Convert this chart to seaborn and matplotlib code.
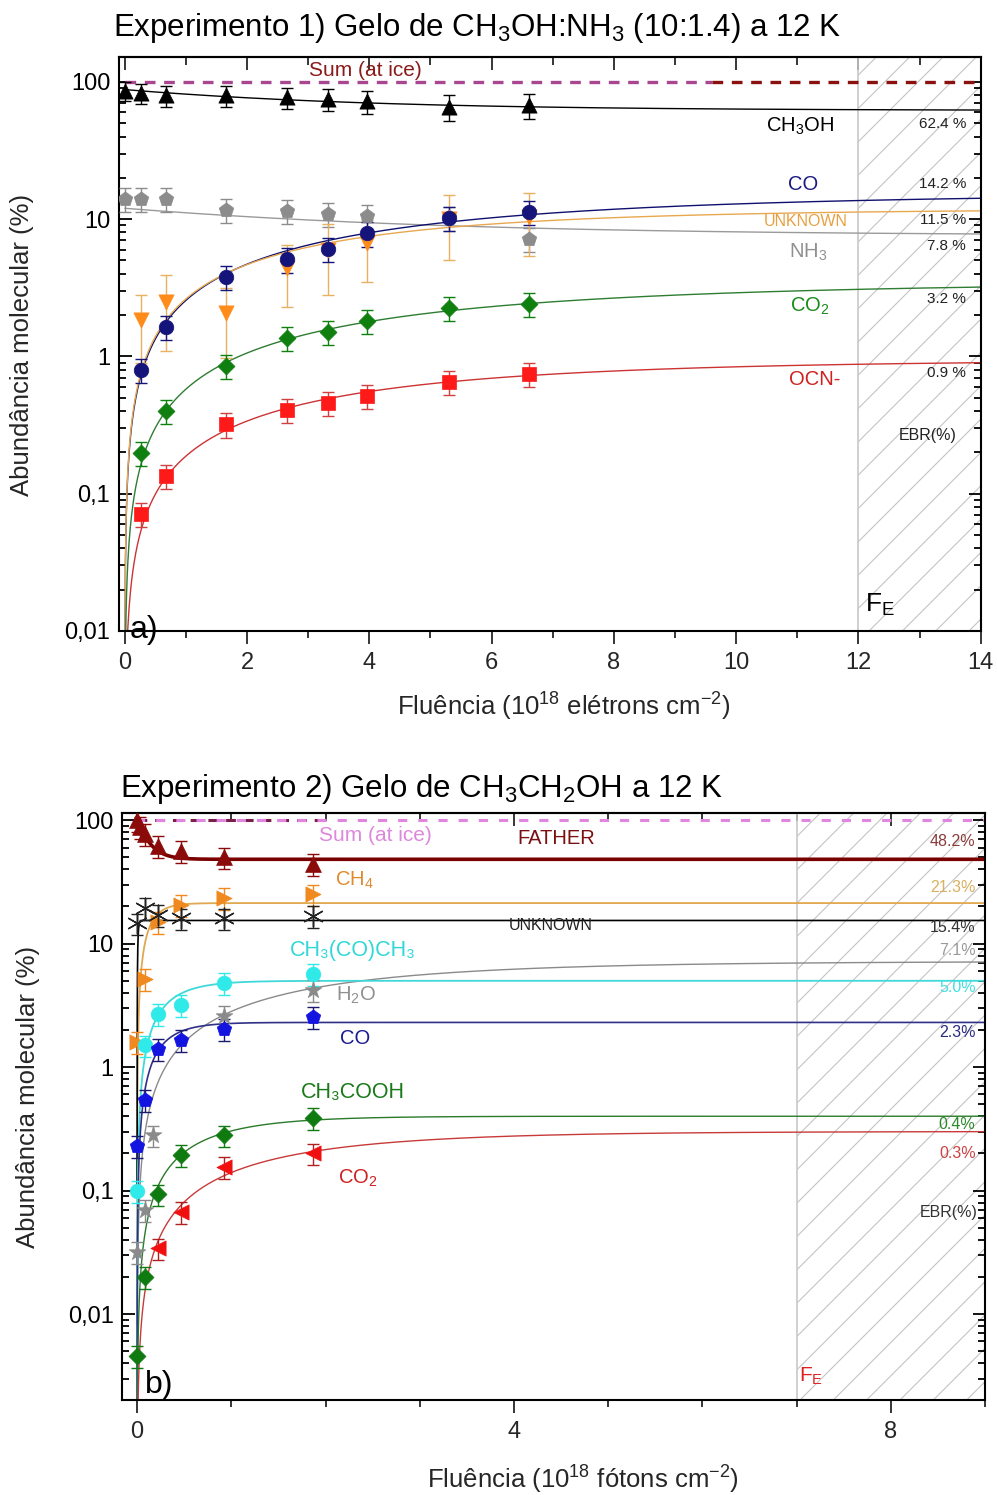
import numpy as np
import pandas as pd
import matplotlib
matplotlib.use("Agg")
import matplotlib.pyplot as plt
import matplotlib.ticker as mticker
from matplotlib.markers import MarkerStyle
import seaborn as sns

sns.set_theme(style="white")
plt.rcParams['font.family'] = ['Liberation Sans', 'DejaVu Sans']
plt.rcParams['mathtext.fontset'] = 'custom'
plt.rcParams['mathtext.rm'] = 'Liberation Sans'
plt.rcParams['mathtext.it'] = 'Liberation Sans:italic'
plt.rcParams['mathtext.bf'] = 'Liberation Sans:bold'
plt.rcParams['hatch.linewidth'] = 0.8
plt.rcParams['axes.linewidth'] = 1.5

TICK_FS = 17
LABEL_FS = 18.5
TITLE_FS = 22.5

# ---------------- Experiment 1: CH3OH:NH3 ice, electrons ----------------
flu_1 = [0.0, 0.27, 0.67, 1.66, 2.66, 3.33, 3.97, 5.30, 6.62]
ch3oh_1 = [86, 83, 80, 80, 77, 75, 72, 66, 68]
nh3_1 = [14.0, 14.0, 14.0, 11.7, 11.5, 10.9, 10.6, 10.3, 7.2]
co_1 = [0.80, 1.64, 3.8, 5.1, 6.1, 7.9, 10.2, 11.3]
unk_1 = [1.85, 2.5, 2.07, 4.4, 6.0, 6.7, 10.0, 10.4]
unk_1_err = [0.95, 1.4, 1.1, 2.1, 3.2, 3.2, 5.0, 5.0]
co2_1 = [0.198, 0.40, 0.85, 1.36, 1.51, 1.81, 2.26, 2.41]
ocn_1 = [0.071, 0.135, 0.32, 0.41, 0.46, 0.515, 0.65, 0.745]

# equilibrium branching ratios (%) and characteristic fluences of the fits
ebr_1 = {"CH3OH": 62.4, "CO": 14.2, "UNKNOWN": 11.5, "NH3": 7.8, "CO2": 3.2, "OCN-": 0.9}
tau_1 = {"CH3OH": 3.5, "CO": 5.5, "UNKNOWN": 4.0, "NH3": 4.5, "CO2": 5.5, "OCN-": 4.5}
drop_1 = {"CH3OH": 26.0, "NH3": 4.4}
fe_1 = 12.0
xmax_1 = 14.0

# ---------------- Experiment 2: CH3CH2OH ice, photons ----------------
flu_2_father = [0.0, 0.03, 0.08, 0.22, 0.47, 0.92, 1.87]
father_2 = [100, 88, 77, 62, 56, 50, 44]
flu_2 = [0.0, 0.08, 0.22, 0.47, 0.92, 1.87]
ch4_2 = [1.6, 5.2, 15.0, 20.5, 23.3, 25.0]
unk_2 = [14.6, 19.5, 17.0, 16.0, 16.0, 16.8]
acetone_2 = [0.10, 1.5, 2.7, 3.2, 4.8, 5.7]
flu_2_h2o = [0.0, 0.08, 0.17, 0.92, 1.87]
h2o_2 = [0.032, 0.07, 0.28, 2.6, 4.2]
co_2 = [0.23, 0.54, 1.4, 1.66, 2.05, 2.55]
acid_2 = [0.0046, 0.020, 0.093, 0.195, 0.28, 0.39]
flu_2_co2 = [0.22, 0.47, 0.92, 1.87]
co2_2 = [0.034, 0.067, 0.155, 0.20]

ebr_2 = {"FATHER": 48.2, "CH4": 21.3, "UNKNOWN": 15.4, "H2O": 7.1, "ACETONE": 5.0,
         "CO": 2.3, "CH3COOH": 0.4, "CO2": 0.3}
tau_2 = {"FATHER": 0.12, "CH4": 0.13, "UNKNOWN": 0.008, "H2O": 2.0, "ACETONE": 0.3,
         "CO": 0.25, "CH3COOH": 0.7, "CO2": 1.6}
fe_2 = 7.0
xmax_2 = 9.0

REL_ERR = 0.20


def growth(x, ebr, tau, xend):
    return ebr * (1 - np.exp(-x / tau)) / (1 - np.exp(-xend / tau))


def decay(x, ebr, drop, tau, xend):
    return ebr + drop * (np.exp(-x / tau) - np.exp(-xend / tau))


def fit_line(ax, x, y, color, lw=1.0):
    df = pd.DataFrame({"x": x, "y": y})
    sns.lineplot(data=df, x="x", y="y", ax=ax, color=color, lw=lw,
                 estimator=None, sort=False, zorder=2, legend=False)


def points(ax, x, y, color, marker, size, err=None, ecolor=None):
    y = np.asarray(y, float)
    e = REL_ERR * y if err is None else np.asarray(err, float)
    ax.errorbar(x, y, yerr=e, fmt='none', ecolor=ecolor or color, elinewidth=1.0,
                capsize=4, capthick=1.0, zorder=3)
    sns.scatterplot(x=x, y=y, ax=ax, color=color, marker=marker, s=size,
                    edgecolor=color, linewidth=0.5, zorder=4, legend=False)


def log_axis(ax, ylim):
    ax.set_yscale('log')
    ax.set_ylim(*ylim)
    ax.yaxis.set_major_locator(mticker.FixedLocator([0.01, 0.1, 1, 10, 100]))
    ax.yaxis.set_major_formatter(mticker.FixedFormatter(["0,01", "0,1", "1", "10", "100"]))
    ax.yaxis.set_minor_locator(mticker.LogLocator(base=10, subs=np.arange(2, 10)))
    ax.yaxis.set_minor_formatter(mticker.NullFormatter())
    ax.tick_params(axis='y', which='both', direction='in', left=True, right=True,
                   labelsize=TICK_FS, colors='black', width=1.3, pad=6)
    ax.tick_params(axis='y', which='major', length=9)
    ax.tick_params(axis='y', which='minor', length=5)
    ax.tick_params(axis='x', which='both', direction='out', bottom=True, labelsize=TICK_FS,
                   width=1.3, pad=6)
    ax.tick_params(axis='x', which='major', length=9)
    ax.tick_params(axis='x', which='minor', length=5)
    for s in ax.spines.values():
        s.set_color('black')
        s.set_linewidth(1.5)


def top_ticks(ax, major, minor):
    sec = ax.secondary_xaxis('top')
    sec.set_xticks(major)
    sec.set_xticks(minor, minor=True)
    sec.tick_params(which='both', direction='in', labeltop=False, width=1.3)
    sec.tick_params(which='major', length=9)
    sec.tick_params(which='minor', length=6)
    sec.spines['top'].set_linewidth(1.5)


def shade(ax, x0, x1):
    ax.axvspan(x0, x1, facecolor='none', hatch='/', edgecolor='#c4c4c4', lw=0, zorder=0)
    ax.axvline(x0, color='#c8c8c8', lw=1.2, zorder=1)


fig = plt.figure(figsize=(9.97, 14.95), dpi=100)

# ======================= panel a =======================
ax1 = fig.add_axes([0.119, 0.578, 0.8646, 0.3839])
log_axis(ax1, (0.01, 152))
ax1.set_xlim(-0.1, xmax_1)
ax1.xaxis.set_major_locator(mticker.MultipleLocator(2))
ax1.xaxis.set_minor_locator(mticker.MultipleLocator(1))
top_ticks(ax1, np.arange(0, 15, 2), np.arange(1, 14, 2))
shade(ax1, fe_1, xmax_1)

xs1 = np.linspace(0.0005, xmax_1, 1400)
ax1.plot([0, 9.6], [100, 100], ls=(0, (3.2, 2.6)), color='#a8478f', lw=2.4, zorder=2)
ax1.plot([9.6, xmax_1], [100, 100], ls=(0, (3.2, 2.6)), color='#8b1010', lw=2.4, zorder=2)

fit_line(ax1, xs1, decay(xs1, ebr_1["CH3OH"], drop_1["CH3OH"], tau_1["CH3OH"], xmax_1), 'black')
fit_line(ax1, xs1, decay(xs1, ebr_1["NH3"], drop_1["NH3"], tau_1["NH3"], xmax_1), '#9a9a9a')
fit_line(ax1, xs1, growth(xs1, ebr_1["CO"], tau_1["CO"], xmax_1), '#10106e')
fit_line(ax1, xs1, growth(xs1, ebr_1["UNKNOWN"], tau_1["UNKNOWN"], xmax_1), '#e8a850')
fit_line(ax1, xs1, growth(xs1, ebr_1["CO2"], tau_1["CO2"], xmax_1), '#2e7d32')
fit_line(ax1, xs1, growth(xs1, ebr_1["OCN-"], tau_1["OCN-"], xmax_1), '#cc3333')

points(ax1, flu_1, ch3oh_1, 'black', '^', 120, err=[14] * len(flu_1))
points(ax1, flu_1, nh3_1, '#8c8c8c', 'p', 120)
points(ax1, flu_1[1:], unk_1, '#ff8c1a', 'v', 120, err=unk_1_err, ecolor='#e8b060')
points(ax1, flu_1[1:], co_1, '#14147a', 'o', 110)
points(ax1, flu_1[1:], co2_1, '#0f800f', 'D', 75)
points(ax1, flu_1[1:], ocn_1, '#ff1a1a', 's', 95, ecolor='#d04040')

ax1.text(3.93, 122, "Sum (at ice)", color='#8b1a1a', fontsize=15, ha='center', va='center')
lab1 = [("CH$_3$OH", 11.05, 47.8, 'black', 14.5),
        ("CO", 11.1, 17.8, '#1a1a80', 14.5),
        ("UNKNOWN", 11.13, 9.55, '#e8a040', 11.5),
        ("NH$_3$", 11.18, 5.77, '#909090', 14.5),
        ("CO$_2$", 11.21, 2.30, '#1a8a1a', 14.5),
        ("OCN-", 11.29, 0.674, '#d02020', 14.5)]
for t, x, y, c, fs in lab1:
    ax1.text(x, y, t, color=c, fontsize=fs, ha='center', va='center')
pct1 = [("CH3OH", 49.4), ("CO", 18.1), ("UNKNOWN", 9.87), ("NH3", 6.38), ("CO2", 2.62), ("OCN-", 0.758)]
for k, y in pct1:
    ax1.text(13.76, y, f"{ebr_1[k]:.1f} %", color='#222222', fontsize=11, ha='right', va='center')
ax1.text(13.14, 0.264, "EBR(%)", color='#222222', fontsize=11.5, ha='center', va='center')
ax1.text(12.11, 0.0155, "F$_\\mathregular{E}$", color='black', fontsize=19, ha='left', va='center')
ax1.text(0.08, 0.0102, "a)", color='black', fontsize=23, ha='left', va='center', clip_on=False)

fig.text(113 / 997, 1 - 28 / 1495, "Experimento 1) Gelo de CH$_3$OH:NH$_3$ (10:1.4) a 12 K",
         fontsize=TITLE_FS, ha='left', va='center', color='black')
fig.text(22 / 997, 1 - 345 / 1495, "Abundância molecular (%)", rotation=90, fontsize=LABEL_FS,
         ha='center', va='center')
fig.text(564 / 997, 1 - 707 / 1495, "Fluência (10$^{18}$ elétrons cm$^{-2}$)", fontsize=LABEL_FS,
         ha='center', va='center')
ax1.set_xlabel("")
ax1.set_ylabel("")

# ======================= panel b =======================
ax2 = fig.add_axes([0.1224, 0.0635, 0.8656, 0.3926])
log_axis(ax2, (0.00201, 114))
ax2.set_xlim(-0.16, xmax_2)
ax2.xaxis.set_major_locator(mticker.FixedLocator([0, 4, 8]))
ax2.xaxis.set_minor_locator(mticker.FixedLocator([1, 2, 3, 5, 6, 7, 9]))
top_ticks(ax2, [0, 4, 8], [1, 2, 3, 5, 6, 7, 9])
shade(ax2, fe_2, xmax_2)

xs2 = np.concatenate([np.linspace(0.00005, 0.05, 800), np.linspace(0.05, xmax_2, 1400)])
ax2.plot([0, 2.0], [100, 100], ls=(0, (3.2, 2.6)), color='#7a1f4a', lw=2.2, zorder=2)
ax2.plot([0, xmax_2], [100, 100], ls=(0.5, (3.0, 3.6)), color='#e085e0', lw=2.2, zorder=2)

fit_line(ax2, xs2, ebr_2["FATHER"] + (100 - ebr_2["FATHER"]) * np.exp(-xs2 / tau_2["FATHER"]),
         '#7a0000', lw=2.6)
fit_line(ax2, xs2, growth(xs2, ebr_2["CH4"], tau_2["CH4"], xmax_2), '#e0a850', lw=1.3)
fit_line(ax2, xs2, growth(xs2, ebr_2["UNKNOWN"], tau_2["UNKNOWN"], xmax_2), 'black', lw=1.2)
fit_line(ax2, xs2, growth(xs2, ebr_2["H2O"], tau_2["H2O"], xmax_2), '#8a8a8a', lw=1.0)
fit_line(ax2, xs2, growth(xs2, ebr_2["ACETONE"], tau_2["ACETONE"], xmax_2), '#40d8d8', lw=1.3)
fit_line(ax2, xs2, growth(xs2, ebr_2["CO"], tau_2["CO"], xmax_2), '#303088', lw=1.2)
fit_line(ax2, xs2, growth(xs2, ebr_2["CH3COOH"], tau_2["CH3COOH"], xmax_2), '#2a7a2a', lw=1.0)
fit_line(ax2, xs2, growth(xs2, ebr_2["CO2"], tau_2["CO2"], xmax_2), '#c83a3a', lw=1.0)

points(ax2, flu_2_father, father_2, '#8b0a0a', '^', 130)
points(ax2, flu_2, ch4_2, '#f08a20', '>', 120)
ax2.errorbar(flu_2, unk_2, yerr=REL_ERR * np.asarray(unk_2), fmt='none', ecolor='#222222',
             elinewidth=1.0, capsize=4, capthick=1.0, zorder=3)
ax2.scatter(flu_2, unk_2, marker=MarkerStyle((6, 2, 0)), s=220, color='#222222',
            linewidths=1.0, zorder=4)
points(ax2, flu_2, acetone_2, '#30eaea', 'o', 110)
points(ax2, flu_2_h2o, h2o_2, '#8a8a8a', '*', 160)
points(ax2, flu_2, co_2, '#1414e0', 'p', 120, ecolor='#1a1a70')
points(ax2, flu_2, acid_2, '#0f7a0f', 'D', 75)
points(ax2, flu_2_co2, co2_2, '#f01010', '<', 120, ecolor='#b02020')

ax2.text(2.53, 75.6, "Sum (at ice)", color='#dd88dd', fontsize=15, ha='center', va='center')
lab2 = [("FATHER", 4.45, 71.5, '#7a1010', 14.5),
        ("CH$_4$", 2.31, 32.7, '#e08a30', 14.5),
        ("UNKNOWN", 4.39, 14.1, '#222222', 11.5),
        ("CH\u2083(CO)CH\u2083", 2.29, 8.86, '#30d8d8', 15.5),
        ("H$_2$O", 2.32, 3.83, '#909090', 14.5),
        ("CO", 2.31, 1.72, '#1a1a90', 14.5),
        ("CH\u2083COOH", 2.29, 0.628, '#1a7a1a', 15.5),
        ("CO$_2$", 2.34, 0.126, '#d02020', 14.5)]
for t, x, y, c, fs in lab2:
    ax2.text(x, y, t, color=c, fontsize=fs, ha='center', va='center',
             family=['Liberation Sans', 'DejaVu Sans'])
pct2 = [("FATHER", 67.6, '#8b3a3a'), ("CH4", 28.7, '#d8b060'), ("UNKNOWN", 13.6, '#333333'),
        ("H2O", 8.86, '#9a9a9a'), ("ACETONE", 4.44, '#40e0e0'), ("CO", 1.92, '#2a2a80'),
        ("CH3COOH", 0.345, '#2a8a2a'), ("CO2", 0.201, '#d04040')]
for k, y, c in pct2:
    ax2.text(8.90, y, f"{ebr_2[k]:.1f}%", color=c, fontsize=11.5, ha='right', va='center')
ax2.text(8.92, 0.067, "EBR(%)", color='#333333', fontsize=11.5, ha='right', va='center')
ax2.text(7.03, 0.0031, "F$_\\mathregular{E}$", color='#e02020', fontsize=15, ha='left', va='center')
ax2.text(0.085, 0.00266, "b)", color='black', fontsize=23, ha='left', va='center', clip_on=False)

fig.text(120 / 997, 1 - 789 / 1495, "Experimento 2) Gelo de CH$_3$CH$_2$OH a 12 K",
         fontsize=TITLE_FS, ha='left', va='center', color='black')
fig.text(28 / 997, 1 - 1097 / 1495, "Abundância molecular (%)", rotation=90, fontsize=LABEL_FS,
         ha='center', va='center')
fig.text(583 / 997, 1 - 1480 / 1495, "Fluência (10$^{18}$ fótons cm$^{-2}$)", fontsize=LABEL_FS,
         ha='center', va='center')
ax2.set_xlabel("")
ax2.set_ylabel("")

fig.savefig("out.png", dpi=100, facecolor='white')
